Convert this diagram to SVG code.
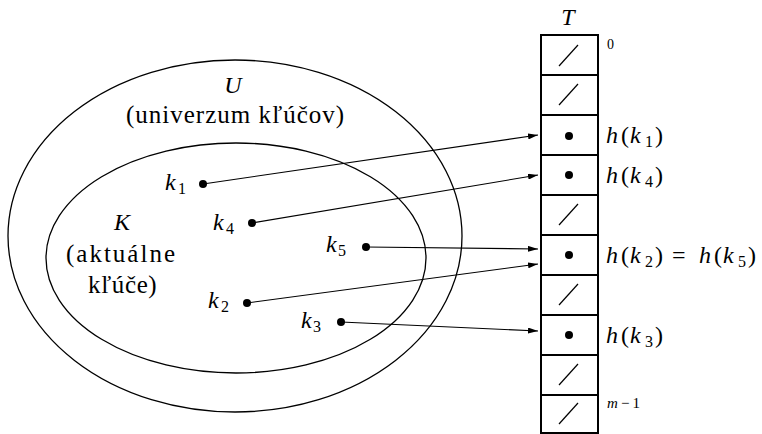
<svg xmlns="http://www.w3.org/2000/svg" width="762" height="434" viewBox="0 0 762 434">
<style>
.cell{fill:#fff;stroke:#000;stroke-width:2}
.sl{stroke:#000;stroke-width:1.2}
.ell{fill:none;stroke:#000;stroke-width:1.3}
.con{stroke:#000;stroke-width:1.1;fill:none}
</style>
<defs>
<marker id="ah" viewBox="0 0 10 6" refX="10" refY="3" markerWidth="10" markerHeight="6" markerUnits="userSpaceOnUse" orient="auto">
<path d="M0,0 L10,3 L0,6 Z" fill="#000"/>
</marker>
</defs>
<rect width="762" height="434" fill="#fff"/>
<g id="U">
<ellipse class="ell" cx="235" cy="236" rx="227" ry="176"/>
<text font-family="Liberation Serif" font-size="24" font-style="italic" x="233" y="93" text-anchor="middle">U</text>
<text font-family="Liberation Serif" font-size="25" letter-spacing="1" x="126" y="123">(univerzum kľúčov)</text>
</g>
<g id="K">
<ellipse class="ell" cx="236" cy="258" rx="190" ry="115"/>
<text font-family="Liberation Serif" font-size="24" font-style="italic" x="122" y="230" text-anchor="middle">K</text>
<text font-family="Liberation Serif" font-size="25" letter-spacing="2" x="66" y="262">(aktuálne</text>
<text font-family="Liberation Serif" font-size="25" letter-spacing="0.6" x="88" y="293">kľúče)</text>
</g>
<g id="k1"><circle cx="203" cy="184" r="4"/>
<text font-family="Liberation Serif" font-size="24" font-style="italic" x="165" y="190">k</text>
<text font-family="Liberation Serif" font-size="16" x="178" y="194">1</text></g>
<g id="k4"><circle cx="252" cy="223" r="4"/>
<text font-family="Liberation Serif" font-size="24" font-style="italic" x="213" y="230">k</text>
<text font-family="Liberation Serif" font-size="16" x="226" y="234">4</text></g>
<g id="k5"><circle cx="366" cy="247" r="4"/>
<text font-family="Liberation Serif" font-size="24" font-style="italic" x="326" y="252">k</text>
<text font-family="Liberation Serif" font-size="16" x="338" y="256">5</text></g>
<g id="k2"><circle cx="247" cy="303" r="4"/>
<text font-family="Liberation Serif" font-size="24" font-style="italic" x="208" y="308">k</text>
<text font-family="Liberation Serif" font-size="16" x="221" y="312">2</text></g>
<g id="k3"><circle cx="341" cy="322" r="4"/>
<text font-family="Liberation Serif" font-size="24" font-style="italic" x="301" y="328">k</text>
<text font-family="Liberation Serif" font-size="16" x="313" y="332">3</text></g>
<g id="T">
<text font-family="Liberation Serif" font-size="24" font-style="italic" x="568" y="25" text-anchor="middle">T</text>
<rect class="cell" x="541" y="35" width="57" height="40"/>
<rect class="cell" x="541" y="75" width="57" height="40"/>
<rect class="cell" x="541" y="115" width="57" height="40"/>
<rect class="cell" x="541" y="155" width="57" height="40"/>
<rect class="cell" x="541" y="195" width="57" height="40"/>
<rect class="cell" x="541" y="235" width="57" height="40"/>
<rect class="cell" x="541" y="275" width="57" height="40"/>
<rect class="cell" x="541" y="315" width="57" height="40"/>
<rect class="cell" x="541" y="355" width="57" height="40"/>
<rect class="cell" x="541" y="395" width="57" height="38"/>
<line class="sl" x1="559" y1="66" x2="578" y2="45"/>
<line class="sl" x1="559" y1="105" x2="578" y2="84"/>
<line class="sl" x1="559" y1="225" x2="578" y2="204"/>
<line class="sl" x1="559" y1="305" x2="578" y2="284"/>
<line class="sl" x1="559" y1="385" x2="578" y2="364"/>
<line class="sl" x1="559" y1="424" x2="578" y2="403"/>
<circle cx="569" cy="136" r="4"/>
<circle cx="569" cy="175" r="4"/>
<circle cx="569" cy="255" r="4"/>
<circle cx="569" cy="335" r="4"/>
<text font-family="Liberation Serif" font-size="14" x="607" y="49">0</text>
<text font-family="Liberation Serif" font-size="15" font-style="italic" x="607" y="408">m</text>
<text font-family="Liberation Serif" font-size="15" letter-spacing="3" x="621" y="408">−1</text>
</g>
<g id="hk1">
<text font-family="Liberation Serif" font-size="24" font-style="italic" x="606" y="143">h</text>
<text font-family="Liberation Serif" font-size="24" x="621" y="143">(</text>
<text font-family="Liberation Serif" font-size="24" font-style="italic" x="630" y="143">k</text>
<text font-family="Liberation Serif" font-size="16" x="645" y="147">1</text>
<text font-family="Liberation Serif" font-size="24" x="655" y="143">)</text>
</g>
<g id="hk4">
<text font-family="Liberation Serif" font-size="24" font-style="italic" x="606" y="183">h</text>
<text font-family="Liberation Serif" font-size="24" x="621" y="183">(</text>
<text font-family="Liberation Serif" font-size="24" font-style="italic" x="630" y="183">k</text>
<text font-family="Liberation Serif" font-size="16" x="645" y="187">4</text>
<text font-family="Liberation Serif" font-size="24" x="655" y="183">)</text>
</g>
<g id="hk2">
<text font-family="Liberation Serif" font-size="24" font-style="italic" x="606" y="263">h</text>
<text font-family="Liberation Serif" font-size="24" x="621" y="263">(</text>
<text font-family="Liberation Serif" font-size="24" font-style="italic" x="630" y="263">k</text>
<text font-family="Liberation Serif" font-size="16" x="645" y="267">2</text>
<text font-family="Liberation Serif" font-size="24" x="655" y="263">)</text>
<text font-family="Liberation Serif" font-size="24" x="672" y="263">=</text>
<text font-family="Liberation Serif" font-size="24" font-style="italic" x="699" y="263">h</text>
<text font-family="Liberation Serif" font-size="24" x="714" y="263">(</text>
<text font-family="Liberation Serif" font-size="24" font-style="italic" x="723" y="263">k</text>
<text font-family="Liberation Serif" font-size="16" x="738" y="267">5</text>
<text font-family="Liberation Serif" font-size="24" x="748" y="263">)</text>
</g>
<g id="hk3">
<text font-family="Liberation Serif" font-size="24" font-style="italic" x="606" y="343">h</text>
<text font-family="Liberation Serif" font-size="24" x="621" y="343">(</text>
<text font-family="Liberation Serif" font-size="24" font-style="italic" x="630" y="343">k</text>
<text font-family="Liberation Serif" font-size="16" x="645" y="347">3</text>
<text font-family="Liberation Serif" font-size="24" x="655" y="343">)</text>
</g>
<g id="connectors">
<line class="con" x1="203" y1="184" x2="538" y2="135" marker-end="url(#ah)"/>
<line class="con" x1="252" y1="223" x2="538" y2="175" marker-end="url(#ah)"/>
<line class="con" x1="366" y1="247" x2="538" y2="249" marker-end="url(#ah)"/>
<line class="con" x1="247" y1="303" x2="538" y2="264" marker-end="url(#ah)"/>
<line class="con" x1="341" y1="322" x2="538" y2="331" marker-end="url(#ah)"/>
</g>
</svg>
